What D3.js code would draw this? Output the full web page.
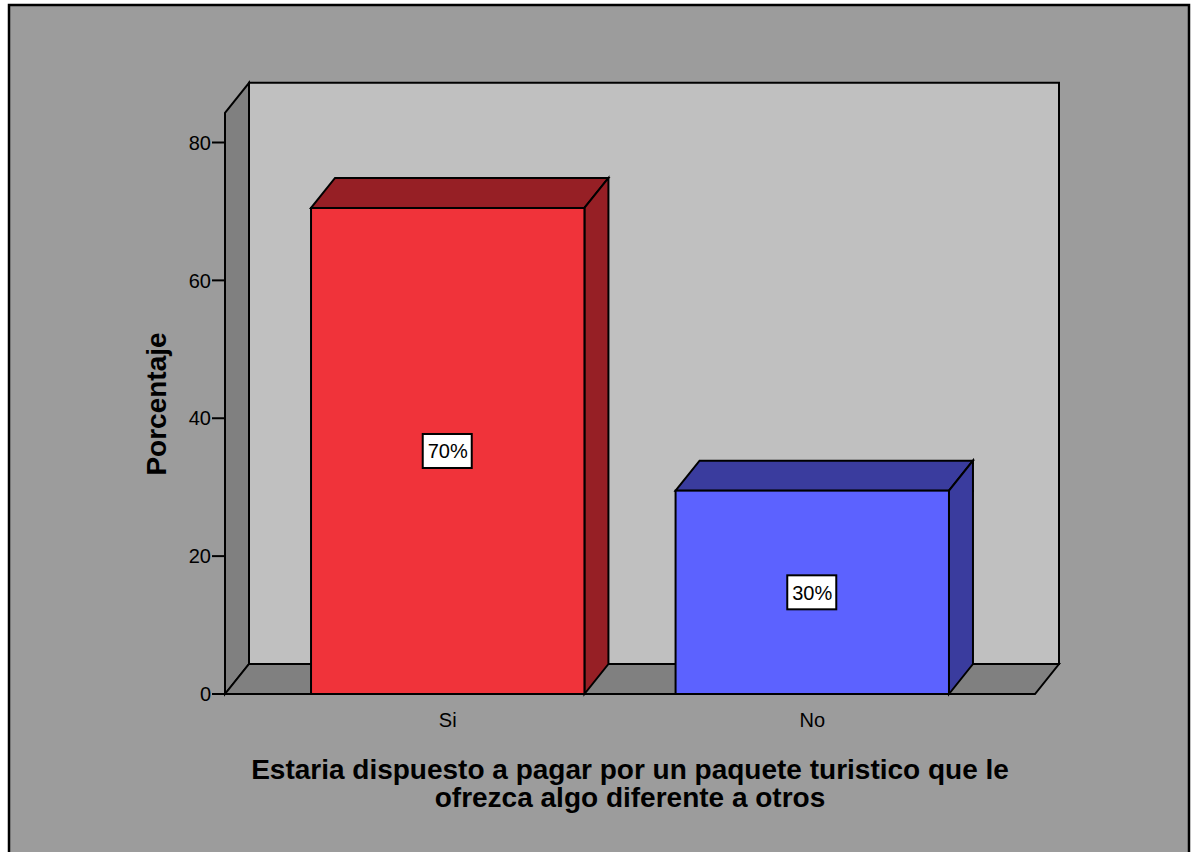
<!DOCTYPE html>
<html>
<head>
<meta charset="utf-8">
<script src="https://cdnjs.cloudflare.com/ajax/libs/d3/7.8.5/d3.min.js"></script>
<style>
  body { margin: 0; background: #fff; }
  text { font-family: "Liberation Sans", Arial, sans-serif; }
</style>
</head>
<body>
<div id="chart"></div>
<script>
const categories = ["Si", "No"];
const percentages = [70.5, 29.5];
const barLabels = ["70%", "30%"];
const yTicks = [0, 20, 40, 60, 80];

const W = 1198, H = 852;
const dx = 24, dy = 30; // 3d depth offset

const svg = d3.select("#chart").append("svg")
  .attr("width", W).attr("height", H);

// outer frame
svg.append("rect")
  .attr("x", 9).attr("y", 5).attr("width", 1180).attr("height", 852)
  .attr("fill", "#9c9c9c").attr("stroke", "#000").attr("stroke-width", 2.5);

const x0 = 225, x1 = 1035;
const y = d3.scaleLinear().domain([0, 80]).range([694, 142.5]);
const yTop = y(84.3);

const x = d3.scaleBand().domain(categories).range([x0, x1])
  .paddingInner(0.25).paddingOuter(0.236);

const poly = pts => pts.map(p => p.join(",")).join(" ");

// back wall
svg.append("polygon")
  .attr("points", poly([[x0 + dx, yTop - dy], [x1 + dx, yTop - dy], [x1 + dx, y(0) - dy], [x0 + dx, y(0) - dy]]))
  .attr("fill", "#c0c0c0").attr("stroke", "#000").attr("stroke-width", 2);

// left wall
svg.append("polygon")
  .attr("points", poly([[x0, yTop], [x0 + dx, yTop - dy], [x0 + dx, y(0) - dy], [x0, y(0)]]))
  .attr("fill", "#808080").attr("stroke", "#000").attr("stroke-width", 2);

// floor
svg.append("polygon")
  .attr("points", poly([[x0, y(0)], [x0 + dx, y(0) - dy], [x1 + dx, y(0) - dy], [x1, y(0)]]))
  .attr("fill", "#808080").attr("stroke", "#000").attr("stroke-width", 2);

// y ticks
const yt = svg.append("g");
yTicks.forEach(t => {
  yt.append("line").attr("x1", x0 - 13).attr("x2", x0)
    .attr("y1", y(t)).attr("y2", y(t)).attr("stroke", "#000").attr("stroke-width", 2);
  yt.append("text").attr("x", x0 - 14).attr("y", y(t)).attr("dy", "0.36em")
    .attr("text-anchor", "end").attr("font-size", 20).text(t);
});

const front = ["#f0333a", "#5c62ff"];
const dark = ["#961f25", "#3a3c9e"];

categories.forEach((c, i) => {
  const bx = x(c), bw = x.bandwidth(), by = y(percentages[i]), b0 = y(0);
  const g = svg.append("g");
  g.append("polygon")
    .attr("points", poly([[bx, by], [bx + dx, by - dy], [bx + bw + dx, by - dy], [bx + bw, by]]))
    .attr("fill", dark[i]).attr("stroke", "#000").attr("stroke-width", 2);
  g.append("polygon")
    .attr("points", poly([[bx + bw, by], [bx + bw + dx, by - dy], [bx + bw + dx, b0 - dy], [bx + bw, b0]]))
    .attr("fill", dark[i]).attr("stroke", "#000").attr("stroke-width", 2);
  g.append("rect").attr("x", bx).attr("y", by).attr("width", bw).attr("height", b0 - by)
    .attr("fill", front[i]).attr("stroke", "#000").attr("stroke-width", 2);

  const cy = y(percentages[i] / 2);
  g.append("rect").attr("x", bx + bw / 2 - 25).attr("y", cy - 17)
    .attr("width", 49).attr("height", 34)
    .attr("fill", "#fff").attr("stroke", "#000").attr("stroke-width", 2);
  g.append("text").attr("x", bx + bw / 2).attr("y", cy).attr("dy", "0.36em")
    .attr("text-anchor", "middle").attr("font-size", 20).text(barLabels[i]);

  svg.append("text").attr("x", bx + bw / 2).attr("y", 720).attr("dy", "0.36em")
    .attr("text-anchor", "middle").attr("font-size", 20).text(c);
});

// axis titles
svg.append("text")
  .attr("transform", "translate(166,404) rotate(-90)")
  .attr("text-anchor", "middle").attr("font-size", 28).attr("font-weight", "bold")
  .text("Porcentaje");

svg.append("text").attr("x", 630).attr("y", 779)
  .attr("text-anchor", "middle").attr("font-size", 28).attr("font-weight", "bold")
  .text("Estaria dispuesto a pagar por un paquete turistico que le");
svg.append("text").attr("x", 630).attr("y", 807)
  .attr("text-anchor", "middle").attr("font-size", 28).attr("font-weight", "bold")
  .text("ofrezca algo diferente a otros");
</script>
</body>
</html>
